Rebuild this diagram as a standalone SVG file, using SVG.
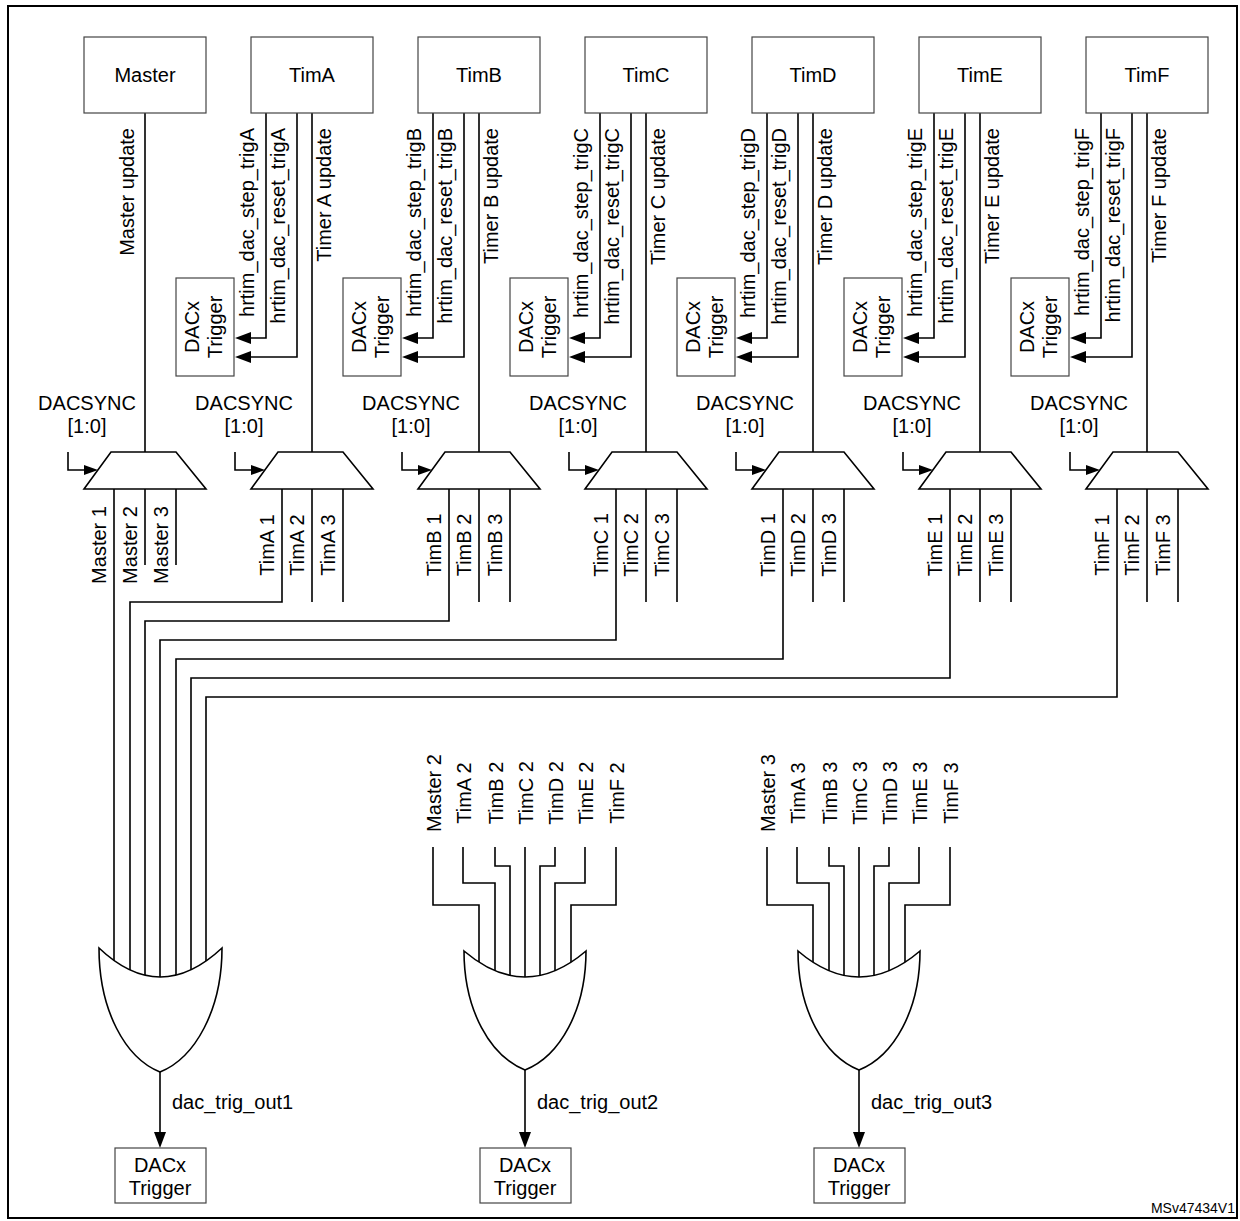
<svg xmlns="http://www.w3.org/2000/svg" width="1240" height="1221" viewBox="0 0 1240 1221">
<style>
text{font-family:"Liberation Sans",Arial,sans-serif;font-size:20px;fill:#000}
.c{text-anchor:middle}
.e{text-anchor:end}
.box{fill:#fff;stroke:#444;stroke-width:1.2}
.w{fill:none;stroke:#000;stroke-width:1.6}
.g{fill:#fff;stroke:#000;stroke-width:1.6}
.a{fill:#000}
</style>
<rect x="8" y="6" width="1229" height="1212" fill="#fff" stroke="#000" stroke-width="2"/>

<g id="connectors">
<path class="w" d="M145,113V452M312,113V452M479,113V452M646,113V452M813,113V452M980,113V452M1147,113V452"/>
<path class="w" d="M266,113V338H250M297,113V357H250 M433,113V338H417M464,113V357H417 M600,113V338H584M631,113V357H584 M767,113V338H751M798,113V357H751 M934,113V338H918M965,113V357H918 M1101,113V338H1085M1132,113V357H1085"/>
<g class="a">
<path d="M235,338l16,-6v12z M235,357l16,-6v12z M402,338l16,-6v12z M402,357l16,-6v12z M569,338l16,-6v12z M569,357l16,-6v12z M736,338l16,-6v12z M736,357l16,-6v12z M903,338l16,-6v12z M903,357l16,-6v12z M1070,338l16,-6v12z M1070,357l16,-6v12z"/>
</g>
<path class="w" d="M68,452V470H86M235,452V470H253M402,452V470H420M569,452V470H587M736,452V470H754M903,452V470H921M1070,452V470H1088"/>
<path class="a" d="M98,470l-14,-5v10z M265,470l-14,-5v10z M432,470l-14,-5v10z M599,470l-14,-5v10z M766,470l-14,-5v10z M933,470l-14,-5v10z M1100,470l-14,-5v10z"/>
<path class="w" d="M145,489V565M176,489V565 M312,489V602M343,489V602 M479,489V602M510,489V602 M646,489V602M677,489V602 M813,489V602M844,489V602 M980,489V602M1011,489V602 M1147,489V602M1178,489V602"/>
<path class="w" d="M114,489V1000 M282,489V602H130V1000 M449,489V621H145V1000 M616,489V640H160V1000 M783,489V659H176V1000 M950,489V678H191V1000 M1117,489V697H206V1000"/>
<path class="w" d="M433,847V905H479V1000 M463,847V883H495V1000 M495,847V866H510V1000 M525,847V1000 M555,847V866H540V1000 M585,847V883H555V1000 M616,847V905H571V1000"/>
<path class="w" d="M767,847V905H813V1000 M797,847V883H829V1000 M829,847V866H844V1000 M859,847V1000 M889,847V866H874V1000 M919,847V883H889V1000 M950,847V905H905V1000"/>
<path class="w" d="M160,1072V1134M525,1070V1134M859,1070V1134"/>
<path class="a" d="M160,1148l-6,-16h12z M525,1148l-6,-16h12z M859,1148l-6,-16h12z"/>
</g>

<g id="master">
<rect class="box" x="84" y="37" width="122" height="76"/>
<text class="c" x="145" y="82">Master</text>
<text class="e" transform="translate(134,128) rotate(-90)">Master update</text>
<text class="c" x="87" y="410">DACSYNC</text><text class="c" x="87" y="433">[1:0]</text>
<polygon class="g" points="84,489 111,452 176,452 206,489"/>
<text class="c" transform="translate(106,545) rotate(-90)">Master 1</text>
<text class="c" transform="translate(137,545) rotate(-90)">Master 2</text>
<text class="c" transform="translate(168,545) rotate(-90)">Master 3</text>
</g>

<g id="timA">
<rect class="box" x="251" y="37" width="122" height="76"/>
<text class="c" x="312" y="82">TimA</text>
<rect class="box" x="176" y="278" width="58" height="98"/>
<text class="c" transform="translate(199,327) rotate(-90)">DACx</text>
<text class="c" transform="translate(222,327) rotate(-90)">Trigger</text>
<text class="e" transform="translate(254,128) rotate(-90)">hrtim_dac_step_trigA</text>
<text class="e" transform="translate(285,128) rotate(-90)">hrtim_dac_reset_trigA</text>
<text class="e" transform="translate(331,128) rotate(-90)">Timer A update</text>
<text class="c" x="244" y="410">DACSYNC</text><text class="c" x="244" y="433">[1:0]</text>
<polygon class="g" points="251,489 278,452 343,452 373,489"/>
<text class="c" transform="translate(274,545) rotate(-90)">TimA 1</text>
<text class="c" transform="translate(304,545) rotate(-90)">TimA 2</text>
<text class="c" transform="translate(335,545) rotate(-90)">TimA 3</text>
</g>

<g id="timB">
<rect class="box" x="418" y="37" width="122" height="76"/>
<text class="c" x="479" y="82">TimB</text>
<rect class="box" x="343" y="278" width="58" height="98"/>
<text class="c" transform="translate(366,327) rotate(-90)">DACx</text>
<text class="c" transform="translate(389,327) rotate(-90)">Trigger</text>
<text class="e" transform="translate(421,128) rotate(-90)">hrtim_dac_step_trigB</text>
<text class="e" transform="translate(452,128) rotate(-90)">hrtim_dac_reset_trigB</text>
<text class="e" transform="translate(498,128) rotate(-90)">Timer B update</text>
<text class="c" x="411" y="410">DACSYNC</text><text class="c" x="411" y="433">[1:0]</text>
<polygon class="g" points="418,489 445,452 510,452 540,489"/>
<text class="c" transform="translate(441,545) rotate(-90)">TimB 1</text>
<text class="c" transform="translate(471,545) rotate(-90)">TimB 2</text>
<text class="c" transform="translate(502,545) rotate(-90)">TimB 3</text>
</g>

<g id="timC">
<rect class="box" x="585" y="37" width="122" height="76"/>
<text class="c" x="646" y="82">TimC</text>
<rect class="box" x="510" y="278" width="58" height="98"/>
<text class="c" transform="translate(533,327) rotate(-90)">DACx</text>
<text class="c" transform="translate(556,327) rotate(-90)">Trigger</text>
<text class="e" transform="translate(588,128) rotate(-90)">hrtim_dac_step_trigC</text>
<text class="e" transform="translate(619,128) rotate(-90)">hrtim_dac_reset_trigC</text>
<text class="e" transform="translate(665,128) rotate(-90)">Timer C update</text>
<text class="c" x="578" y="410">DACSYNC</text><text class="c" x="578" y="433">[1:0]</text>
<polygon class="g" points="585,489 612,452 677,452 707,489"/>
<text class="c" transform="translate(608,545) rotate(-90)">TimC 1</text>
<text class="c" transform="translate(638,545) rotate(-90)">TimC 2</text>
<text class="c" transform="translate(669,545) rotate(-90)">TimC 3</text>
</g>

<g id="timD">
<rect class="box" x="752" y="37" width="122" height="76"/>
<text class="c" x="813" y="82">TimD</text>
<rect class="box" x="677" y="278" width="58" height="98"/>
<text class="c" transform="translate(700,327) rotate(-90)">DACx</text>
<text class="c" transform="translate(723,327) rotate(-90)">Trigger</text>
<text class="e" transform="translate(755,128) rotate(-90)">hrtim_dac_step_trigD</text>
<text class="e" transform="translate(786,128) rotate(-90)">hrtim_dac_reset_trigD</text>
<text class="e" transform="translate(832,128) rotate(-90)">Timer D update</text>
<text class="c" x="745" y="410">DACSYNC</text><text class="c" x="745" y="433">[1:0]</text>
<polygon class="g" points="752,489 779,452 844,452 874,489"/>
<text class="c" transform="translate(775,545) rotate(-90)">TimD 1</text>
<text class="c" transform="translate(805,545) rotate(-90)">TimD 2</text>
<text class="c" transform="translate(836,545) rotate(-90)">TimD 3</text>
</g>

<g id="timE">
<rect class="box" x="919" y="37" width="122" height="76"/>
<text class="c" x="980" y="82">TimE</text>
<rect class="box" x="844" y="278" width="58" height="98"/>
<text class="c" transform="translate(867,327) rotate(-90)">DACx</text>
<text class="c" transform="translate(890,327) rotate(-90)">Trigger</text>
<text class="e" transform="translate(922,128) rotate(-90)">hrtim_dac_step_trigE</text>
<text class="e" transform="translate(953,128) rotate(-90)">hrtim_dac_reset_trigE</text>
<text class="e" transform="translate(999,128) rotate(-90)">Timer E update</text>
<text class="c" x="912" y="410">DACSYNC</text><text class="c" x="912" y="433">[1:0]</text>
<polygon class="g" points="919,489 946,452 1011,452 1041,489"/>
<text class="c" transform="translate(942,545) rotate(-90)">TimE 1</text>
<text class="c" transform="translate(972,545) rotate(-90)">TimE 2</text>
<text class="c" transform="translate(1003,545) rotate(-90)">TimE 3</text>
</g>

<g id="timF">
<rect class="box" x="1086" y="37" width="122" height="76"/>
<text class="c" x="1147" y="82">TimF</text>
<rect class="box" x="1011" y="278" width="58" height="98"/>
<text class="c" transform="translate(1034,327) rotate(-90)">DACx</text>
<text class="c" transform="translate(1057,327) rotate(-90)">Trigger</text>
<text class="e" transform="translate(1089,128) rotate(-90)">hrtim_dac_step_trigF</text>
<text class="e" transform="translate(1120,128) rotate(-90)">hrtim_dac_reset_trigF</text>
<text class="e" transform="translate(1166,128) rotate(-90)">Timer F update</text>
<text class="c" x="1079" y="410">DACSYNC</text><text class="c" x="1079" y="433">[1:0]</text>
<polygon class="g" points="1086,489 1113,452 1178,452 1208,489"/>
<text class="c" transform="translate(1109,545) rotate(-90)">TimF 1</text>
<text class="c" transform="translate(1139,545) rotate(-90)">TimF 2</text>
<text class="c" transform="translate(1170,545) rotate(-90)">TimF 3</text>
</g>

<g id="or1">
<path class="g" d="M99,948Q160,1006 222,948C222,1010 195,1058 160,1072C125,1058 99,1010 99,948Z"/>
<text x="172" y="1109">dac_trig_out1</text>
<rect class="box" x="115" y="1148" width="91" height="55"/>
<text class="c" x="160" y="1172">DACx</text><text class="c" x="160" y="1195">Trigger</text>
</g>

<g id="or2">
<text class="c" transform="translate(441,793) rotate(-90)">Master 2</text>
<text class="c" transform="translate(471,793) rotate(-90)">TimA 2</text>
<text class="c" transform="translate(503,793) rotate(-90)">TimB 2</text>
<text class="c" transform="translate(533,793) rotate(-90)">TimC 2</text>
<text class="c" transform="translate(563,793) rotate(-90)">TimD 2</text>
<text class="c" transform="translate(593,793) rotate(-90)">TimE 2</text>
<text class="c" transform="translate(624,793) rotate(-90)">TimF 2</text>
<path class="g" d="M464,951Q525,1003 586,951C586,1010 560,1056 525,1070C490,1056 464,1010 464,951Z"/>
<text x="537" y="1109">dac_trig_out2</text>
<rect class="box" x="480" y="1148" width="91" height="55"/>
<text class="c" x="525" y="1172">DACx</text><text class="c" x="525" y="1195">Trigger</text>
</g>

<g id="or3">
<text class="c" transform="translate(775,793) rotate(-90)">Master 3</text>
<text class="c" transform="translate(805,793) rotate(-90)">TimA 3</text>
<text class="c" transform="translate(837,793) rotate(-90)">TimB 3</text>
<text class="c" transform="translate(867,793) rotate(-90)">TimC 3</text>
<text class="c" transform="translate(897,793) rotate(-90)">TimD 3</text>
<text class="c" transform="translate(927,793) rotate(-90)">TimE 3</text>
<text class="c" transform="translate(958,793) rotate(-90)">TimF 3</text>
<path class="g" d="M798,951Q859,1003 920,951C920,1010 894,1056 859,1070C824,1056 798,1010 798,951Z"/>
<text x="871" y="1109">dac_trig_out3</text>
<rect class="box" x="814" y="1148" width="91" height="55"/>
<text class="c" x="859" y="1172">DACx</text><text class="c" x="859" y="1195">Trigger</text>
</g>

<text x="1235" y="1213" class="e" style="font-size:14px">MSv47434V1</text>
</svg>
